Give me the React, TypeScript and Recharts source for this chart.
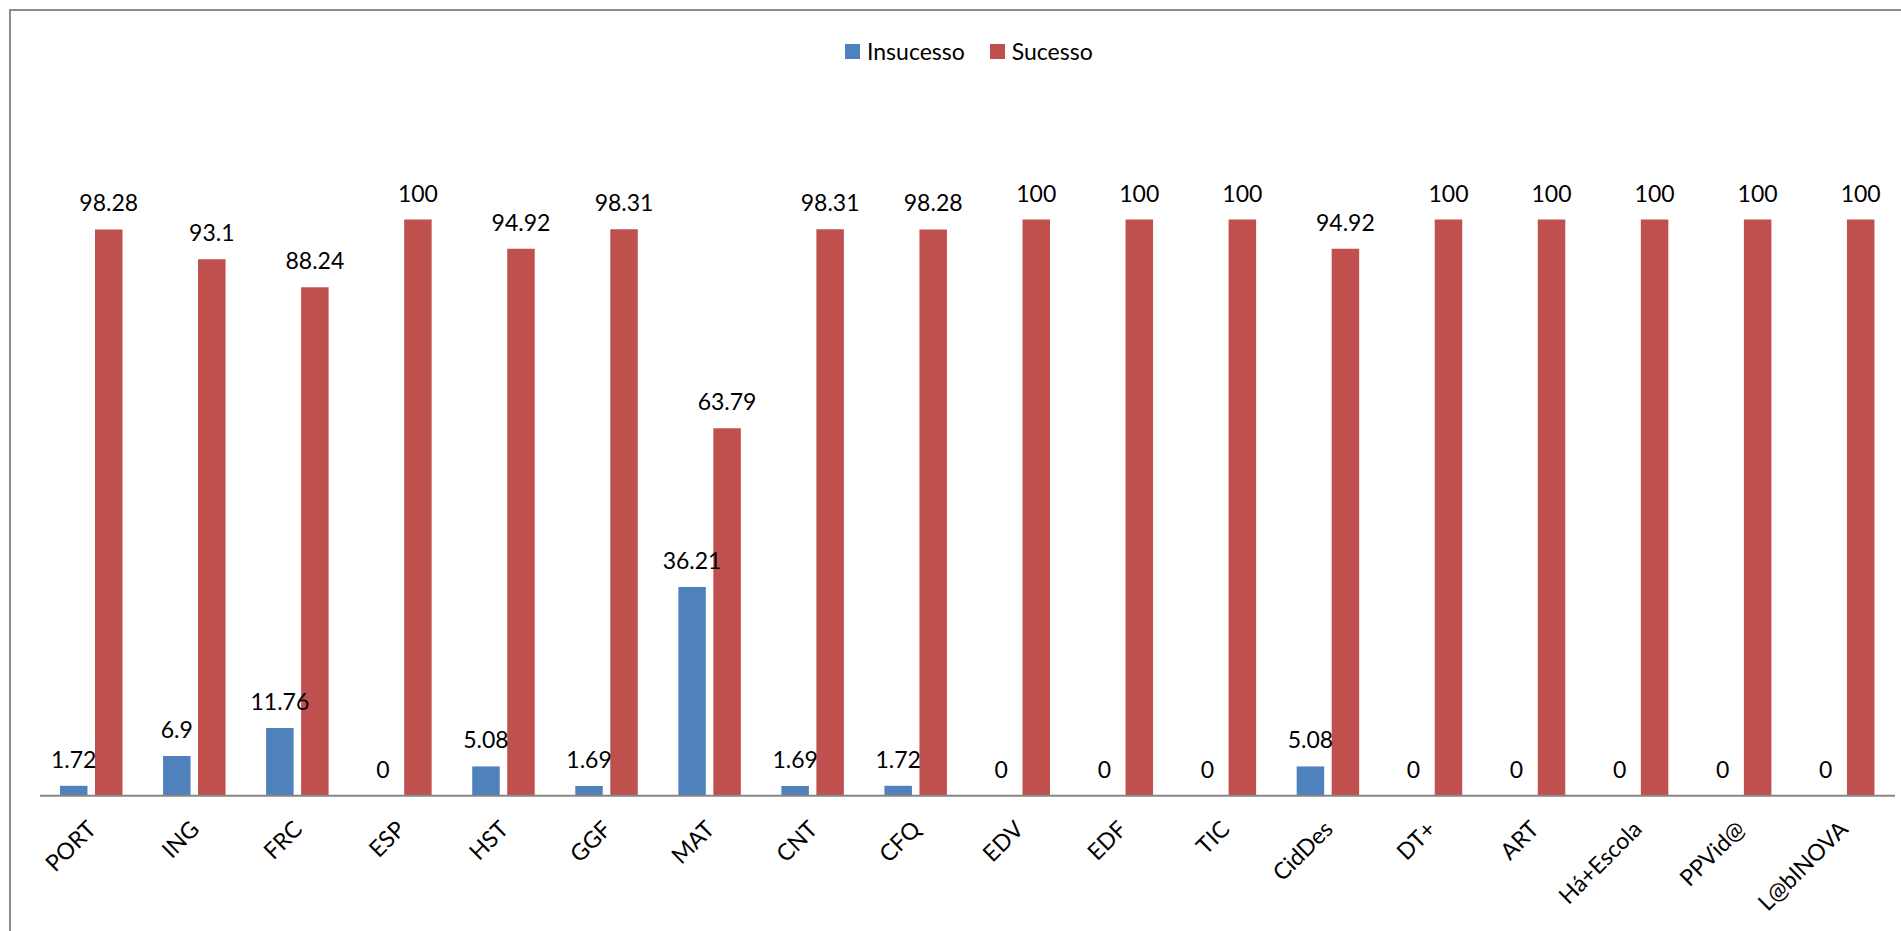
import React from 'react';
import { BarChart, Bar, XAxis, YAxis, LabelList } from 'recharts';

const categories = ['PORT', 'ING', 'FRC', 'ESP', 'HST', 'GGF', 'MAT', 'CNT', 'CFQ', 'EDV', 'EDF', 'TIC', 'CidDes', 'DT+', 'ART', 'Há+Escola', 'PPVid@', 'L@bINOVA'];
const insucesso = [1.72, 6.9, 11.76, 0, 5.08, 1.69, 36.21, 1.69, 1.72, 0, 0, 0, 5.08, 0, 0, 0, 0, 0];
const sucesso = [98.28, 93.1, 88.24, 100, 94.92, 98.31, 63.79, 98.31, 98.28, 100, 100, 100, 94.92, 100, 100, 100, 100, 100];
const seriesNames = ['Insucesso', 'Sucesso'];
const colors = ['#4F81BD', '#C0504D'];

const data = categories.map((c, i) => ({ name: c, insucesso: insucesso[i], sucesso: sucesso[i] }));

const FONT = 'Lato, "Open Sans", sans-serif';

const Tick = (props: any) => {
  const { x, y, payload } = props;
  return (
    <g transform={`translate(${x + 6},${y + 35})`}>
      <text transform="rotate(-45)" textAnchor="end" fontFamily={FONT} fontSize={23} fill="#000">
        {payload.value}
      </text>
    </g>
  );
};

const renderLabel = (props: any) => {
  const { x, y, width, value } = props;
  return (
    <text x={Number(x) + Number(width) / 2} y={Number(y) - 18} textAnchor="middle" fontFamily={FONT} fontSize={23} fill="#000">
      {value}
    </text>
  );
};

export default function App() {
  return (
    <div style={{ position: 'fixed', left: 0, top: 0, width: 1901, height: 931, overflow: 'hidden', background: '#fff' }}>
      <div style={{ position: 'absolute', left: 9, top: 9, width: 1892, height: 922, borderTop: '2px solid #8c8c8c', borderLeft: '2px solid #8c8c8c', boxSizing: 'border-box' }} />
      <div style={{ position: 'absolute', left: 0, top: 0 }}>
        <BarChart
          width={1901}
          height={931}
          data={data}
          margin={{ top: 104.3, right: 6, left: 40, bottom: 35.3 }}
          barGap={7.5}
          barSize={27.5}
        >
          <XAxis
            dataKey="name"
            height={100}
            interval={0}
            tickLine={false}
            tickSize={0}
            tickMargin={0}
            axisLine={{ stroke: '#868686', strokeWidth: 2 }}
            tick={<Tick />}
          />
          <YAxis hide domain={[0, 120]} />
          <Bar dataKey="insucesso" fill={colors[0]} minPointSize={0.01} isAnimationActive={false}>
            <LabelList dataKey="insucesso" content={renderLabel} />
          </Bar>
          <Bar dataKey="sucesso" fill={colors[1]} minPointSize={0.01} isAnimationActive={false}>
            <LabelList dataKey="sucesso" content={renderLabel} />
          </Bar>
        </BarChart>
      </div>
      <div style={{ position: 'absolute', left: 845, top: 37, display: 'flex', alignItems: 'center', fontFamily: FONT, fontSize: 23, color: '#000', whiteSpace: 'nowrap' }}>
        <span style={{ display: 'inline-block', width: 15, height: 15, background: colors[0], marginRight: 7 }} />
        <span style={{ marginRight: 25 }}>{seriesNames[0]}</span>
        <span style={{ display: 'inline-block', width: 15, height: 15, background: colors[1], marginRight: 7 }} />
        <span>{seriesNames[1]}</span>
      </div>
    </div>
  );
}
